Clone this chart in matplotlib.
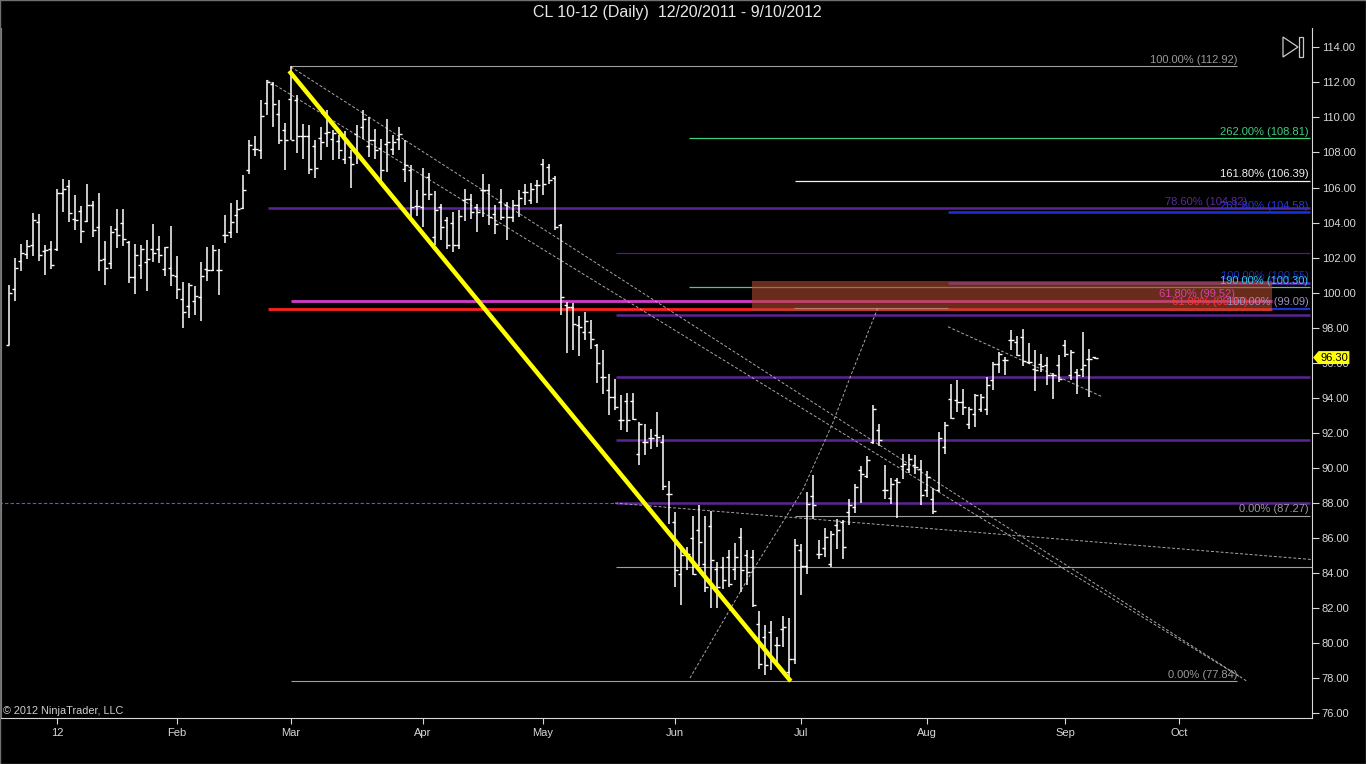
import numpy as np
import matplotlib
matplotlib.use("Agg")
import matplotlib.pyplot as plt
from matplotlib.patches import Polygon, Rectangle
from matplotlib.transforms import blended_transform_factory

plt.rcParams['font.family'] = ['Liberation Sans', 'DejaVu Sans']

# CL 10-12 daily OHLC, 12/20/2011 - 9/10/2012
opens = [97.03, 100.23, 101.79, 102.23, 102.70, 104.03, 102.38, 102.51, 102.47, 105.69,
         106.07, 104.22, 104.64, 104.09, 104.99, 103.75, 101.94, 101.71, 103.62, 103.98,
         102.90, 100.90, 101.56, 101.75, 102.47, 102.51, 101.37, 101.43, 100.95, 99.66,
         99.24, 99.51, 99.76, 101.33, 101.31, 101.28, 103.31, 103.46, 104.45, 104.85,
         106.98, 108.22, 108.16, 110.82, 111.93, 110.20, 109.26, 111.07, 110.98, 108.92,
         108.92, 108.35, 108.83, 109.11, 108.79, 108.66, 107.65, 107.74, 109.07, 109.45,
         108.35, 108.73, 108.27, 108.50, 108.22, 108.79, 107.08, 107.00, 104.95, 104.89,
         106.60, 103.18, 104.89, 104.17, 103.98, 102.70, 105.27, 105.36, 104.89, 105.84,
         105.88, 104.47, 105.17, 104.99, 104.32, 104.99, 105.75, 105.31, 106.16, 107.36,
         107.17, 106.56, 103.84, 99.28, 99.18, 98.14, 97.76, 97.76, 97.00, 95.19,
         94.43, 94.05, 92.72, 93.82, 93.82, 90.82, 91.48, 91.73, 91.90, 91.50,
         88.53, 86.90, 83.97, 85.20, 85.99, 86.44, 84.54, 86.67, 84.25, 84.35,
         84.92, 84.25, 86.06, 85.01, 84.92, 81.10, 80.36, 80.64, 79.88, 80.83,
         78.36, 79.12, 85.30, 84.39, 88.38, 85.11, 85.45, 84.54, 86.73, 86.92,
         87.49, 87.77, 89.87, 89.52, 91.48, 92.15, 88.72, 88.31, 89.30, 90.09,
         89.96, 90.15, 89.96, 88.76, 88.25, 88.72, 91.20, 93.95, 93.86, 93.76,
         92.53, 93.10, 93.38, 93.38, 95.04, 95.95, 96.14, 97.32, 97.19, 97.47,
         96.05, 95.66, 95.91, 95.85, 95.28, 95.85, 97.03, 95.28, 95.47, 95.66,
         96.24, 96.33]

highs = [100.42, 102.00, 102.80, 102.99, 104.55, 104.47, 102.70, 102.93, 105.94, 106.51,
         106.45, 105.56, 104.93, 106.18, 105.23, 105.71, 102.95, 103.79, 104.80, 104.80,
         102.95, 102.80, 102.70, 102.99, 103.94, 103.22, 102.61, 103.80, 102.07, 100.61,
         100.55, 100.36, 101.75, 102.61, 102.74, 102.47, 104.41, 105.12, 105.27, 106.70,
         108.69, 108.92, 110.98, 112.12, 112.02, 110.98, 109.68, 112.92, 111.26, 109.61,
         109.55, 108.73, 109.45, 110.41, 109.26, 108.98, 109.23, 108.16, 109.55, 110.41,
         110.02, 109.36, 108.79, 109.93, 108.98, 109.45, 108.69, 107.27, 105.84, 107.13,
         106.83, 105.78, 105.08, 104.32, 104.60, 104.74, 105.94, 105.61, 105.04, 106.75,
         106.18, 104.99, 105.94, 105.17, 105.31, 105.84, 106.18, 106.26, 106.41, 107.65,
         107.32, 106.64, 103.94, 99.47, 99.41, 98.65, 98.90, 98.46, 97.09, 96.75,
         95.38, 95.09, 94.14, 94.28, 94.28, 92.62, 92.49, 92.24, 93.19, 91.86,
         89.24, 87.49, 85.60, 85.49, 87.24, 87.87, 87.24, 87.54, 84.64, 84.92,
         85.34, 85.72, 86.58, 85.34, 85.34, 81.84, 81.02, 81.30, 80.36, 81.53,
         81.46, 85.97, 85.68, 88.63, 89.58, 85.87, 86.59, 86.40, 87.11, 87.01,
         88.25, 89.10, 90.09, 90.66, 93.57, 92.53, 90.15, 89.45, 89.45, 90.82,
         90.78, 90.72, 90.43, 89.81, 88.86, 92.05, 92.62, 94.77, 95.04, 94.52,
         93.48, 94.20, 94.24, 95.19, 96.05, 96.62, 96.33, 97.89, 97.51, 97.95,
         97.13, 96.75, 96.48, 96.33, 95.42, 96.43, 97.32, 96.75, 95.66, 97.76,
         96.81, 96.36]

lows = [97.00, 99.53, 101.24, 101.94, 102.07, 101.81, 100.99, 101.33, 102.38, 104.60,
        104.03, 103.56, 102.84, 104.03, 103.18, 101.24, 100.42, 101.33, 102.55, 102.65,
        100.55, 99.91, 100.80, 100.10, 101.75, 101.69, 100.93, 100.36, 99.62, 97.99,
        98.56, 98.75, 98.37, 100.67, 101.22, 99.85, 102.84, 103.14, 103.41, 104.76,
        106.79, 107.78, 107.65, 110.12, 109.45, 108.50, 107.02, 108.69, 107.97, 107.65,
        106.75, 106.56, 107.55, 108.31, 107.55, 107.65, 107.32, 105.99, 107.32, 108.75,
        107.74, 107.65, 106.26, 106.89, 107.84, 108.12, 106.32, 104.13, 104.40, 103.75,
        105.27, 102.74, 102.99, 102.51, 102.32, 102.51, 104.09, 104.22, 103.46, 104.32,
        103.84, 103.37, 104.13, 102.99, 104.03, 104.32, 104.99, 105.08, 105.12, 105.56,
        106.18, 103.60, 98.71, 96.56, 96.71, 96.37, 97.32, 96.81, 94.85, 94.20,
        93.00, 93.29, 92.15, 92.05, 92.72, 90.15, 90.72, 91.10, 91.20, 88.72,
        86.82, 83.21, 82.16, 84.16, 83.87, 84.39, 82.92, 82.03, 82.03, 83.11,
        83.21, 83.59, 82.92, 83.30, 82.07, 78.55, 78.17, 78.45, 78.74, 79.79,
        77.84, 78.83, 82.73, 83.97, 87.11, 84.83, 84.92, 84.35, 85.40, 84.83,
        86.73, 87.43, 87.99, 89.45, 91.39, 91.23, 88.25, 87.96, 87.16, 89.39,
        89.71, 89.67, 87.87, 88.34, 87.35, 88.63, 90.81, 92.81, 93.19, 93.00,
        92.24, 92.34, 93.19, 93.00, 94.43, 95.42, 95.28, 96.75, 96.37, 95.80,
        95.95, 94.39, 95.47, 94.71, 93.95, 94.90, 96.33, 95.00, 94.20, 95.19,
        94.05, 96.24]

closes = [100.00, 101.43, 102.29, 102.67, 104.13, 102.13, 102.42, 101.60, 105.69, 105.94,
          104.57, 104.13, 103.50, 104.99, 103.60, 101.85, 101.43, 103.46, 103.31, 103.08,
          100.90, 102.13, 102.47, 101.94, 102.29, 102.13, 102.61, 100.99, 100.19, 98.90,
          100.42, 99.81, 100.95, 101.28, 102.42, 101.28, 103.27, 104.03, 104.80, 105.84,
          108.41, 108.22, 110.06, 112.02, 110.79, 108.69, 108.69, 108.73, 108.92, 108.92,
          107.08, 107.13, 108.60, 109.17, 109.11, 108.16, 108.69, 107.32, 107.84, 109.93,
          108.69, 108.12, 107.02, 108.60, 108.60, 109.07, 107.30, 104.89, 104.95, 105.65,
          105.65, 104.70, 103.75, 102.70, 102.70, 104.36, 105.36, 104.60, 104.60, 105.88,
          104.32, 103.94, 104.32, 104.32, 104.99, 105.40, 105.75, 105.94, 106.16, 106.22,
          106.45, 103.75, 99.75, 99.18, 98.23, 98.04, 98.37, 97.38, 96.01, 95.19,
          94.05, 93.48, 92.72, 92.72, 92.81, 92.53, 91.48, 91.73, 91.77, 89.00,
          88.53, 84.20, 85.01, 85.10, 83.97, 85.78, 83.21, 84.73, 83.21, 83.59,
          83.40, 84.92, 84.16, 84.06, 82.20, 78.83, 78.74, 79.02, 79.92, 80.93,
          79.12, 85.59, 84.39, 87.96, 87.87, 85.11, 86.06, 86.25, 86.44, 85.49,
          87.87, 88.91, 89.67, 90.47, 93.38, 91.58, 88.72, 89.10, 89.20, 90.24,
          90.53, 90.05, 88.44, 89.48, 87.54, 91.73, 92.43, 92.87, 93.76, 93.48,
          93.38, 94.14, 94.05, 94.71, 95.95, 96.52, 96.14, 97.32, 96.43, 96.10,
          96.05, 95.57, 95.80, 95.28, 95.28, 95.09, 96.52, 96.62, 95.28, 95.85,
          96.24, 96.30]

last_price = 96.30

# month ticks (bar index) and labels
month_ticks = [8, 28, 47, 69, 89, 111, 132, 153, 176, 195]
month_labels = ['12', 'Feb', 'Mar', 'Apr', 'May', 'Jun', 'Jul', 'Aug', 'Sep', 'Oct']

# horizontal drawing levels (price, label)
level_prices = [112.92, 77.84, 108.81, 106.39, 104.82, 104.58, 102.25, 100.55, 100.30,
                99.52, 99.07, 99.09, 98.75, 95.18, 91.58, 88.00, 87.27, 84.33, 99.10]
level_labels = ['100.00% (112.92)', '0.00% (77.84)', '262.00% (108.81)', '161.80% (106.39)',
                '78.60% (104.82)', '261.80% (104.58)', '', '100.00% (100.55)',
                '190.00% (100.30)', '61.80% (99.52)', '61.80% (99.07)', '100.00% (99.09)',
                '', '', '', '', '0.00% (87.27)', '', '']

# drawing geometry: (x0, x1, line colour, width, label right end, label colour)
PURPLE = '#5b2494'
level_style = [
    (47.0, 204.7, '#a0a0a0', 0.8, 204.7, '#9a9a9a'),
    (47.0, 204.7, '#a0a0a0', 0.8, 204.7, '#9a9a9a'),
    (113.3, 216.9, '#3ecf80', 0.9, 216.6, '#3ecf80'),
    (131.0, 216.9, '#f2f2f2', 0.9, 216.6, '#f2f2f2'),
    (43.2, 216.9, PURPLE, 1.8, 206.3, '#5a2a9a'),
    (156.5, 216.9, '#1f30d8', 1.8, 216.6, '#2536e0'),
    (101.2, 216.9, '#4a1f80', 0.9, None, None),
    (156.5, 216.9, '#5a2ac0', 1.8, 216.6, '#1e2cb8'),
    (113.3, 216.9, '#3ecf80', 0.9, 216.6, '#3cc8e8'),
    (47.0, 210.5, '#d23cc8', 2.0, 204.3, '#d840a8'),
    (43.2, 210.5, '#ff2020', 2.0, 206.5, '#ff3434'),
    (210.5, 216.9, '#2030d0', 1.6, 216.6, '#9a90c0'),
    (101.2, 216.9, PURPLE, 1.8, None, None),
    (101.2, 216.9, PURPLE, 1.8, None, None),
    (101.2, 216.9, PURPLE, 1.8, None, None),
    (101.2, 216.9, PURPLE, 1.8, None, None),
    (131.0, 216.9, '#a0a0a0', 0.8, 216.6, '#9a9a9a'),
    (101.2, 217.2, '#a0a0a0', 0.8, None, None),
    (130.8, 156.5, '#c8c8c8', 0.8, None, None),
]

# sloped drawings: bar index / price anchors
yellow_x = [46.7, 130.3]
yellow_y = [112.65, 77.84]
chan_a_x = [47.0, 206.5]
chan_a_y = [112.88, 77.80]
chan_b_x = [43.0, 205.2]
chan_b_y = [112.13, 78.08]
arc_x = [113.5, 124.0, 132.3, 137.3, 140.2, 144.8]
arc_y = [78.02, 84.18, 88.75, 92.57, 95.19, 99.13]
trend_x = [156.5, 182.3]
trend_y = [98.06, 94.05]
long_x = [101.0, 217.2]
long_y = [88.00, 84.78]
zone_x = [123.8, 210.5]
zone_y = [98.93, 100.65]

W, H = 1366, 764
fig = plt.figure(figsize=(W / 100, H / 100), dpi=100, facecolor='black')
ax = fig.add_axes([1 / W, 46 / H, 1311 / W, 690 / H], facecolor='black')
ax.set_xlim(-1.33, 217.17)
ax.set_ylim(75.74, 115.10)

xs = np.arange(len(closes))

# horizontal levels
for p, lab, st in zip(level_prices, level_labels, level_style):
    x0, x1, col, lw, lx, lc = st
    ax.hlines(p, x0, x1, color=col, lw=lw, zorder=2)
    if lab:
        ax.annotate(lab, (lx, p), xytext=(0, 1.2), textcoords='offset points',
                    ha='right', va='bottom', fontsize=8, color=lc, zorder=6)

# blue dashed level on the left
ax.hlines(88.00, -2, 101.0, color='#4a5cff', lw=0.8, linestyles=(0, (3, 2)), zorder=2)

# shaded zone
ax.add_patch(Rectangle((zone_x[0], zone_y[0]), zone_x[1] - zone_x[0], zone_y[1] - zone_y[0],
                       facecolor='#b04a30', alpha=0.6, edgecolor='none', zorder=3))

dash = (0, (3, 2))
for lx_, ly_ in [(chan_a_x, chan_a_y), (chan_b_x, chan_b_y), (arc_x, arc_y),
                 (trend_x, trend_y), (long_x, long_y)]:
    ax.plot(lx_, ly_, color='#a8a8a8', lw=0.7, ls=dash, zorder=3.5)

# OHLC bars
ax.vlines(xs, lows, highs, color='white', lw=1.1, zorder=4)
ax.hlines(opens, xs - 0.45, xs, color='white', lw=1.0, zorder=4)
ax.hlines(closes, xs, xs + 0.45, color='white', lw=1.0, zorder=4)

ax.plot(yellow_x, yellow_y, color='#ffff00', lw=3.2, solid_capstyle='butt', zorder=5)

# axes styling
ax.spines['top'].set_visible(False)
ax.spines['left'].set_color('#808080')
ax.spines['bottom'].set_color('#d8d8d8')
ax.spines['right'].set_color('#d8d8d8')
ax.yaxis.tick_right()
ax.set_yticks(np.arange(76, 115, 2))
ax.set_yticklabels(['%.2f' % v for v in np.arange(76, 115, 2)])
ax.set_xticks(month_ticks)
ax.set_xticklabels(month_labels)
ax.tick_params(axis='y', colors='#d8d8d8', labelcolor='#d8d8d8', labelsize=8,
               length=5, width=0.8, pad=2)
ax.tick_params(axis='x', colors='#d8d8d8', labelcolor='#d8d8d8', labelsize=8,
               length=4, width=0.8, pad=3)

# last price marker
tr = blended_transform_factory(ax.transAxes, ax.transData)
ax.add_patch(Polygon([(1.0008, last_price), (1.0050, last_price + 0.37),
                      (1.0285, last_price + 0.37), (1.0285, last_price - 0.37),
                      (1.0050, last_price - 0.37)],
                     closed=True, facecolor='#ffff00', edgecolor='none',
                     transform=tr, clip_on=False, zorder=10))
ax.text(1.0168, last_price, '%.2f' % last_price, transform=tr, ha='center', va='center',
        fontsize=8, color='black', clip_on=False, zorder=11)

# title, copyright and the "go to end" icon
fig.text(0.496, 0.983, 'CL 10-12 (Daily)  12/20/2011 - 9/10/2012', ha='center', va='center',
         fontsize=11.5, color='#e6e6e6')
fig.text(3 / W, 1 - 711 / H, '\u00a9 2012 NinjaTrader, LLC', ha='left', va='center',
         fontsize=7.8, color='#d0d0d0')


def fpx(x, y):
    return (x / W, 1 - y / H)


fig.add_artist(Polygon([fpx(1283, 37), fpx(1283, 57), fpx(1298, 47)], closed=True,
                       facecolor='none', edgecolor='#c8c8c8', lw=0.9,
                       transform=fig.transFigure))
fig.add_artist(Rectangle(fpx(1299, 57), 4 / W, 20 / H, facecolor='none',
                         edgecolor='#c8c8c8', lw=0.9, transform=fig.transFigure))
fig.add_artist(Rectangle((0, 0), 1, 1, facecolor='none', edgecolor='#707070', lw=1.0,
                         transform=fig.transFigure))

fig.savefig('out.png', dpi=100, facecolor='black')
